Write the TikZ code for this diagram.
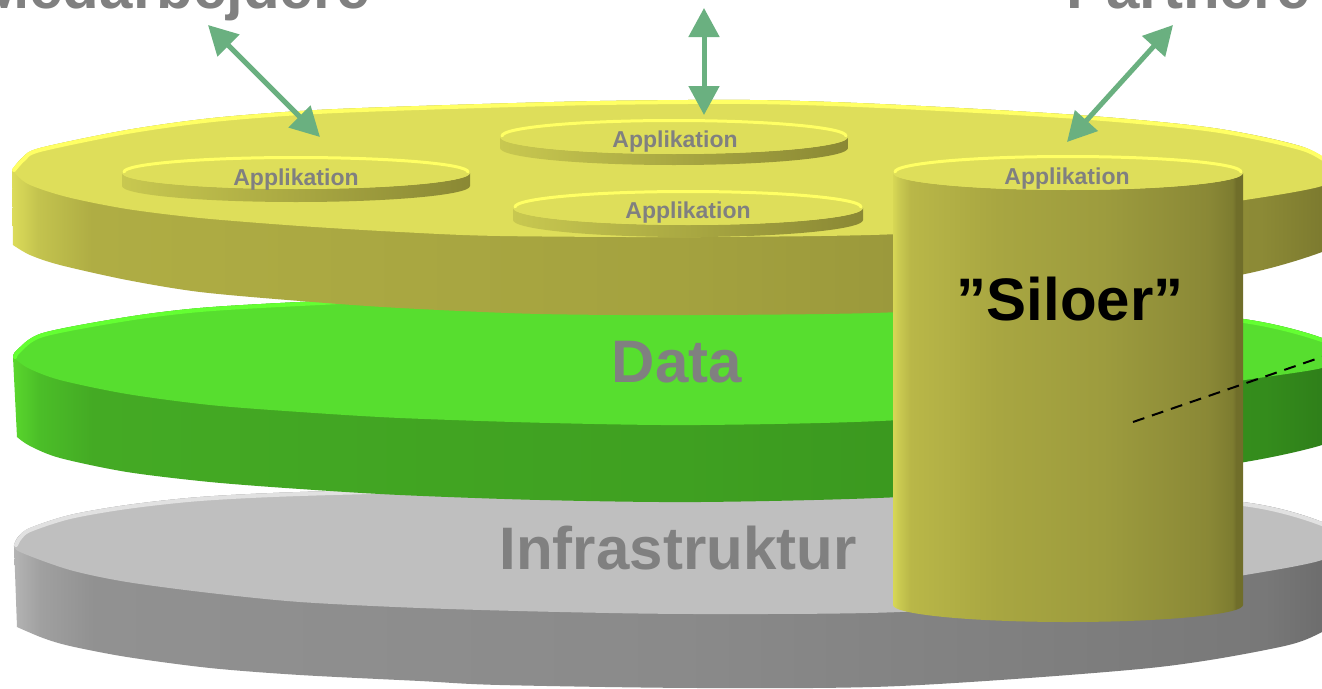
\documentclass[tikz,border=0pt]{standalone}
\usepackage{fontspec}
\setmainfont{Liberation Sans}
\usetikzlibrary{arrows.meta}

% yellow layer
\definecolor{ysA}{RGB}{220,220,90}
\definecolor{ysB}{RGB}{195,195,78}
\definecolor{ysC}{RGB}{175,173,68}
\definecolor{ysD}{RGB}{164,162,63}
\definecolor{ysE}{RGB}{140,138,54}
\definecolor{ysF}{RGB}{120,118,45}
\definecolor{ytop}{RGB}{222,222,90}
\definecolor{yrim}{RGB}{255,255,100}
% green layer
\definecolor{gsA}{RGB}{90,215,45}
\definecolor{gsB}{RGB}{75,190,40}
\definecolor{gsC}{RGB}{68,170,36}
\definecolor{gsD}{RGB}{63,160,33}
\definecolor{gsE}{RGB}{52,140,28}
\definecolor{gsF}{RGB}{45,122,25}
\definecolor{gtop}{RGB}{87,222,47}
\definecolor{grim}{RGB}{100,255,50}
% gray layer
\definecolor{asA}{RGB}{180,180,180}
\definecolor{asB}{RGB}{160,160,160}
\definecolor{asC}{RGB}{145,145,145}
\definecolor{asD}{RGB}{138,138,138}
\definecolor{asE}{RGB}{120,120,120}
\definecolor{asF}{RGB}{105,105,105}
\definecolor{atop}{RGB}{191,191,191}
\definecolor{arim}{RGB}{225,225,225}
% silo
\definecolor{ssA}{RGB}{215,215,85}
\definecolor{ssB}{RGB}{200,200,80}
\definecolor{ssC}{RGB}{185,183,72}
\definecolor{ssD}{RGB}{168,166,65}
\definecolor{ssE}{RGB}{157,156,62}
\definecolor{ssF}{RGB}{138,136,54}
\definecolor{ssG}{RGB}{125,124,48}
\definecolor{ssH}{RGB}{112,110,42}
% misc
\definecolor{txtgray}{RGB}{128,128,128}
\definecolor{arrgreen}{RGB}{106,176,128}
\definecolor{appL}{RGB}{200,200,80}
\definecolor{appM}{RGB}{168,166,64}
\definecolor{appR}{RGB}{138,136,52}

\pgfdeclarehorizontalshading{yside}{100bp}{color(0bp)=(ysA); color(25bp)=(ysA); color(26bp)=(ysB); color(28bp)=(ysC); color(50bp)=(ysD); color(72bp)=(ysE); color(75bp)=(ysF); color(100bp)=(ysF)}
\pgfdeclarehorizontalshading{gside}{100bp}{color(0bp)=(gsA); color(25bp)=(gsA); color(26bp)=(gsB); color(28bp)=(gsC); color(50bp)=(gsD); color(72bp)=(gsE); color(75bp)=(gsF); color(100bp)=(gsF)}
\pgfdeclarehorizontalshading{aside}{100bp}{color(0bp)=(asA); color(25bp)=(asA); color(26bp)=(asB); color(28bp)=(asC); color(50bp)=(asD); color(72bp)=(asE); color(75bp)=(asF); color(100bp)=(asF)}
\pgfdeclarehorizontalshading{sside}{100bp}{color(0bp)=(ssA); color(25bp)=(ssA); color(26bp)=(ssB); color(27.5bp)=(ssC); color(40bp)=(ssD); color(55bp)=(ssE); color(70bp)=(ssF); color(73.5bp)=(ssG); color(74bp)=(ssH); color(100bp)=(ssH)}

\tikzset{
  apptext/.style={inner sep=0pt, anchor=base, text=txtgray, font=\fontsize{23}{23}\selectfont\bfseries},
  bigtext/.style={inner sep=0pt, anchor=base, text=txtgray, font=\fontsize{60}{60}\selectfont\bfseries},
  rimline/.style={line width=4pt, line cap=round, line join=round},
  appside/.style={left color=appL, middle color=appM, right color=appR},
  biarrow/.style={draw=arrgreen, line width=5pt, {Triangle[length=29pt,width=30pt]}-{Triangle[length=29pt,width=30pt]}},
}

\begin{document}
\begin{tikzpicture}[x=1pt,y=-1pt]
\fill[white] (0,0) rectangle (1322,688);
\useasboundingbox (0,0) rectangle (1322,688);

% ================= gray layer (Infrastruktur)
\shade[shading=aside] plot[smooth] coordinates {(14,545) (18,537) (30,528) (70,515) (127,505) (200,497) (300,492) (500,487) (700,484) (900,484) (1100,490) (1250,503) (1322,522) (1345,542)}
  -- plot[smooth] coordinates {(1345,615) (1322,632) (1280,647) (1150,668) (900,686) (700,688) (500,685) (420,681) (300,675) (210,668) (127,657) (70,646) (43,638) (17,627)} -- cycle;
\fill[atop] plot[smooth] coordinates {(14,545) (18,537) (30,528) (70,515) (127,505) (200,497) (300,492) (500,487) (700,484) (900,484) (1100,490) (1250,503) (1322,522) (1345,542)}
  -- plot[smooth] coordinates {(1345,542) (1322,560) (1245,575) (1100,597) (900,612) (700,614) (560,612) (420,608) (300,602) (210,593) (127,582) (70,570) (20,552) (14,545)} -- cycle;
\draw[arim, rimline, shift={(0,2)}] plot[smooth] coordinates {(16,543) (20,536) (30,528) (70,515) (127,505) (200,497) (300,492) (500,487) (700,484) (900,484) (1100,490) (1250,503) (1322,522) (1340,538)};
\node[bigtext] (infra) at (678,569) {Infrastruktur};

% ================= green layer (Data)
\shade[shading=gside] plot[smooth] coordinates {(13,357) (17,350) (43,333) (127,317) (200,308) (300,302) (500,293) (700,289) (900,292) (1100,303) (1250,320) (1322,338) (1345,355)}
  -- plot[smooth] coordinates {(1345,430) (1322,445) (1245,462) (1100,482) (900,497) (700,502) (540,500) (400,495) (300,489) (210,482) (127,472) (60,458) (30,446) (17,437)} -- cycle;
\fill[gtop] plot[smooth] coordinates {(13,357) (17,350) (43,333) (127,317) (200,308) (300,302) (500,293) (700,289) (900,292) (1100,303) (1250,320) (1322,338) (1345,355)}
  -- plot[smooth] coordinates {(1345,355) (1322,368) (1245,380) (1100,402) (900,420) (700,425) (550,423) (400,418) (300,412) (210,405) (127,394) (60,380) (28,368) (13,357)} -- cycle;
\draw[grim, rimline, shift={(0,2)}] plot[smooth] coordinates {(15,355) (19,349) (43,333) (127,317) (200,308) (300,302) (500,293) (700,289) (900,292) (1100,303) (1250,320) (1322,338) (1340,351)};
\node[bigtext] (data) at (677,382) {Data};

% ================= yellow layer (Applikation)
\shade[shading=yside] plot[smooth] coordinates {(12,170) (22,158) (40,148) (127,130) (213,118) (317,110) (450,105) (600,101) (750,100) (880,104) (1077,115) (1213,128) (1303,147) (1340,170)}
  -- plot[smooth] coordinates {(1340,238) (1322,252) (1245,274) (1100,297) (900,312) (700,315) (540,314) (400,308) (300,301) (200,292) (127,280) (60,265) (30,255) (13,245)} -- cycle;
\fill[ytop] plot[smooth] coordinates {(12,170) (22,158) (40,148) (127,130) (213,118) (317,110) (450,105) (600,101) (750,100) (880,104) (1077,115) (1213,128) (1303,147) (1340,170)}
  -- plot[smooth] coordinates {(1340,170) (1322,186) (1245,200) (1100,220) (900,234) (700,237) (500,236) (400,232) (300,226) (200,218) (127,209) (67,197) (28,184) (12,170)} -- cycle;
\draw[yrim, rimline, shift={(0,2)}] plot[smooth] coordinates {(14,168) (24,157) (40,148) (127,130) (213,118) (317,110) (450,105) (600,101) (750,100) (880,104) (1077,115) (1213,128) (1303,147) (1335,166)};

% ================= application disks
% disk 1
\shade[appside] (122,173) -- (122,186) arc[start angle=180, end angle=0, x radius=174, y radius=16] -- (470,173) arc[start angle=0, end angle=180, x radius=174, y radius=16] -- cycle;
\fill[ytop] (296,173) ellipse[x radius=174, y radius=16];
\draw[yrim, line width=3pt, line cap=round] (124,172) arc[start angle=180, end angle=360, x radius=172, y radius=14.5];
\node[apptext] (app1) at (296,185) {Applikation};
% disk 2
\shade[appside] (500,137) -- (500,148) arc[start angle=180, end angle=0, x radius=174, y radius=17] -- (848,137) arc[start angle=0, end angle=180, x radius=174, y radius=17] -- cycle;
\fill[ytop] (674,137) ellipse[x radius=174, y radius=17];
\draw[yrim, line width=3pt, line cap=round] (502,136) arc[start angle=180, end angle=360, x radius=172, y radius=15.5];
\node[apptext] (app2) at (675,147) {Applikation};
% disk 3
\shade[appside] (513,208) -- (513,220) arc[start angle=180, end angle=0, x radius=175, y radius=17] -- (863,208) arc[start angle=0, end angle=180, x radius=175, y radius=17] -- cycle;
\fill[ytop] (688,208) ellipse[x radius=175, y radius=17];
\draw[yrim, line width=3pt, line cap=round] (515,207) arc[start angle=180, end angle=360, x radius=173, y radius=15.5];
\node[apptext] (app3) at (688,218) {Applikation};

% ================= silo
\shade[shading=sside] (893,173) -- (893,605) arc[start angle=180, end angle=0, x radius=175, y radius=17] -- (1243,173) arc[start angle=0, end angle=180, x radius=175, y radius=17] -- cycle;
\fill[ytop] (1068,173) ellipse[x radius=175, y radius=17];
\draw[yrim, line width=3pt, line cap=round] (895,172) arc[start angle=180, end angle=360, x radius=173, y radius=15.5];
\node[apptext] (app4) at (1067,184) {Applikation};
\node[bigtext, text=black] (silo) at (1070,320) {”Siloer”};

% dashed pointer
\coordinate (dashA) at (1133,422);
\coordinate (dashB) at (1345,349);
\draw[black, line width=2pt, dash pattern=on 12pt off 8pt] (dashA) -- (dashB);

% ================= top labels and arrows
\node[bigtext, anchor=base east] (med) at (370,9) {Medarbejdere};
\node[bigtext, anchor=base east] (part) at (1310,9) {Partnere};

\coordinate (medTop) at (208,25);
\coordinate (medBot) at (320,137);
\coordinate (midTop) at (704,8);
\coordinate (midBot) at (704,115);
\coordinate (partTop) at (1173,25);
\coordinate (partBot) at (1067,142);
\draw[biarrow] (medTop) -- (medBot);
\draw[biarrow] (midTop) -- (midBot);
\draw[biarrow] (partTop) -- (partBot);
\end{tikzpicture}
\end{document}
